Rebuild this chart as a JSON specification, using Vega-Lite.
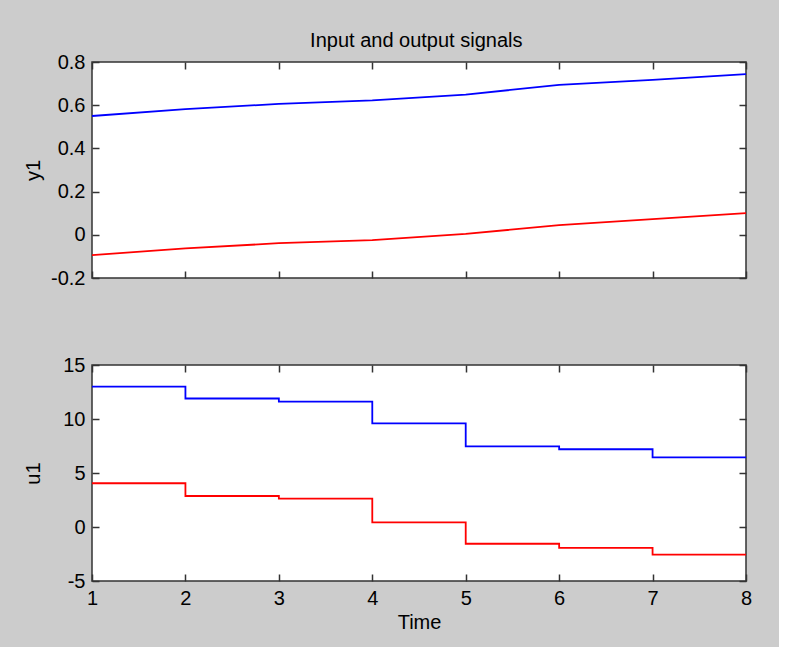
{
  "$schema": "https://vega.github.io/schema/vega-lite/v6.json",
  "background": "#cccccc",
  "padding": {"left": 22, "top": 31, "right": 26, "bottom": 14},
  "title": {"text": "Input and output signals", "fontSize": 20, "font": "Liberation Sans", "fontWeight": "normal", "color": "#000000", "offset": 0, "anchor": "middle", "dx": 29},
  "datasets": {
    "ydata": [
      {"t": 1, "v": 0.55, "s": "exp1"}, {"t": 2, "v": 0.582, "s": "exp1"}, {"t": 3, "v": 0.606, "s": "exp1"}, {"t": 4, "v": 0.622, "s": "exp1"},
      {"t": 5, "v": 0.649, "s": "exp1"}, {"t": 6, "v": 0.694, "s": "exp1"}, {"t": 7, "v": 0.717, "s": "exp1"}, {"t": 8, "v": 0.744, "s": "exp1"},
      {"t": 1, "v": -0.094, "s": "exp2"}, {"t": 2, "v": -0.063, "s": "exp2"}, {"t": 3, "v": -0.039, "s": "exp2"}, {"t": 4, "v": -0.025, "s": "exp2"},
      {"t": 5, "v": 0.004, "s": "exp2"}, {"t": 6, "v": 0.045, "s": "exp2"}, {"t": 7, "v": 0.073, "s": "exp2"}, {"t": 8, "v": 0.1, "s": "exp2"}
    ],
    "udata": [
      {"t": 1, "v": 13.0, "s": "exp1"}, {"t": 2, "v": 11.9, "s": "exp1"}, {"t": 3, "v": 11.6, "s": "exp1"}, {"t": 4, "v": 9.6, "s": "exp1"},
      {"t": 5, "v": 7.47, "s": "exp1"}, {"t": 6, "v": 7.2, "s": "exp1"}, {"t": 7, "v": 6.45, "s": "exp1"}, {"t": 8, "v": 6.45, "s": "exp1"},
      {"t": 1, "v": 4.05, "s": "exp2"}, {"t": 2, "v": 2.87, "s": "exp2"}, {"t": 3, "v": 2.62, "s": "exp2"}, {"t": 4, "v": 0.43, "s": "exp2"},
      {"t": 5, "v": -1.55, "s": "exp2"}, {"t": 6, "v": -1.94, "s": "exp2"}, {"t": 7, "v": -2.56, "s": "exp2"}, {"t": 8, "v": -2.56, "s": "exp2"}
    ]
  },
  "spacing": 87,
  "bounds": "flush",
  "vconcat": [
    {
      "width": 654, "height": 216,
      "data": {"name": "ydata"},
      "layer": [
        {
          "mark": {"type": "line", "strokeWidth": 1.8},
          "encoding": {
            "x": {"field": "t", "type": "quantitative", "scale": {"domain": [1, 8], "nice": false},
                  "axis": {"orient": "bottom", "values": [1, 2, 3, 4, 5, 6, 7, 8], "labels": false, "title": null}},
            "y": {"field": "v", "type": "quantitative", "scale": {"domain": [-0.2, 0.8], "nice": false, "zero": false},
                  "axis": {"orient": "left", "values": [-0.2, 0, 0.2, 0.4, 0.6, 0.8], "labelExpr": "'' + datum.value", "title": "y1", "titleX": -59, "titleBaseline": "middle"}},
            "color": {"field": "s", "type": "nominal", "scale": {"domain": ["exp1", "exp2"], "range": ["#0000ff", "#ff0000"]}, "legend": null}
          }
        },
        {
          "mark": {"type": "line", "opacity": 0},
          "encoding": {
            "x": {"field": "t", "type": "quantitative", "axis": {"orient": "top", "values": [1, 2, 3, 4, 5, 6, 7, 8], "labels": false, "title": null}},
            "y": {"field": "v", "type": "quantitative", "axis": {"orient": "right", "values": [-0.2, 0, 0.2, 0.4, 0.6, 0.8], "labels": false, "title": null}},
            "detail": {"field": "s", "type": "nominal"}
          }
        }
      ],
      "resolve": {"axis": {"x": "independent", "y": "independent"}}
    },
    {
      "width": 654, "height": 216,
      "data": {"name": "udata"},
      "layer": [
        {
          "mark": {"type": "line", "strokeWidth": 1.8, "interpolate": "step-after"},
          "encoding": {
            "x": {"field": "t", "type": "quantitative", "scale": {"domain": [1, 8], "nice": false},
                  "axis": {"orient": "bottom", "values": [1, 2, 3, 4, 5, 6, 7, 8], "title": "Time"}},
            "y": {"field": "v", "type": "quantitative", "scale": {"domain": [-5, 15], "nice": false, "zero": false},
                  "axis": {"orient": "left", "values": [-5, 0, 5, 10, 15], "labelExpr": "'' + datum.value", "title": "u1", "titleX": -59, "titleBaseline": "middle"}},
            "color": {"field": "s", "type": "nominal", "scale": {"domain": ["exp1", "exp2"], "range": ["#0000ff", "#ff0000"]}, "legend": null}
          }
        },
        {
          "mark": {"type": "line", "opacity": 0},
          "encoding": {
            "x": {"field": "t", "type": "quantitative", "axis": {"orient": "top", "values": [1, 2, 3, 4, 5, 6, 7, 8], "labels": false, "title": null}},
            "y": {"field": "v", "type": "quantitative", "axis": {"orient": "right", "values": [-5, 0, 5, 10, 15], "labels": false, "title": null}},
            "detail": {"field": "s", "type": "nominal"}
          }
        }
      ],
      "resolve": {"axis": {"x": "independent", "y": "independent"}}
    }
  ],
  "config": {
    "view": {"stroke": "#333333", "strokeWidth": 1.5, "fill": "#ffffff"},
    "axis": {
      "domain": false, "grid": false,
      "tickSize": -7, "tickColor": "#333333", "tickWidth": 1.5,
      "labelFont": "Liberation Sans", "labelFontSize": 20, "labelColor": "#000000",
      "labelPadding": 14, "labelFlush": false, "labelOverlap": false, "labelBound": false,
      "titleFont": "Liberation Sans", "titleFontSize": 20, "titleFontWeight": "normal", "titleColor": "#000000",
      "titlePadding": 4
    }
  }
}
